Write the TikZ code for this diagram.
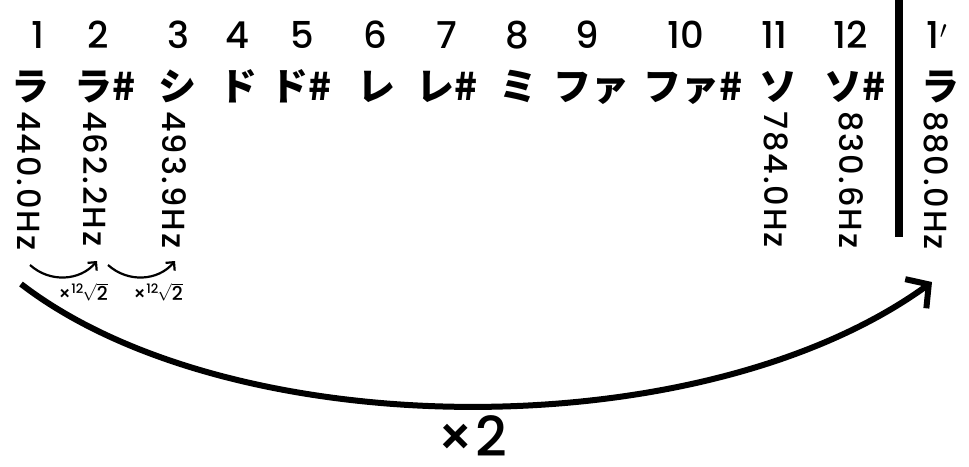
\documentclass[tikz,border=0pt]{standalone}
\usepackage{fontspec}
\setmainfont{Poppins Medium}
\newfontfamily\freqfont{Poppins Medium}[LetterSpace=6]
\newfontfamily\jp{Noto Sans CJK JP}
\usetikzlibrary{arrows.meta}
\begin{document}
\begin{tikzpicture}[x=1pt,y=-1pt,
  num/.style={font=\fontsize{37}{37}\selectfont, inner sep=0pt, anchor=base},
  kana/.style={font=\jp\bfseries\fontsize{38}{38}\selectfont, inner sep=0pt, anchor=base},
  freq/.style={font=\freqfont\fontsize{32}{32}\selectfont, inner sep=0pt, rotate=-90, anchor=north west},
  small/.style={font=\fontsize{19}{19}\selectfont, inner sep=0pt},
  smallarrow/.style={line width=2.2pt, -{Straight Barb[length=6pt,width=12pt]}},
  bigarrow/.style={line width=6pt, -{Straight Barb[length=16pt,width=36pt]}}]
\useasboundingbox (0,0) rectangle (969,466);
% numbers
\foreach \x/\t [count=\i] in {38/1,98/2,178/3,237/4,302/5,375/6,447/7,517/8,587/9,686/10,774/11,851/12,937/1$'$}
  \node[num] (n\i) at (\x,48) {\t};
% kana
\node[kana] (k1) at (31,100) {ラ};
\node[kana] (k2) at (105,100) {ラ\#};
\node[kana] (k3) at (177,100) {シ};
\node[kana] (k4) at (238,100) {ド};
\node[kana] (k5) at (301,100) {ド\#};
\node[kana] (k6) at (376,100) {レ};
\node[kana] (k7) at (447,100) {レ\#};
\node[kana] (k8) at (518,100) {ミ};
\node[kana] (k9) at (591,100) {ファ};
\node[kana] (k10) at (693,100) {ファ\#};
\node[kana] (k11) at (778,100) {ソ};
\node[kana] (k12) at (855,100) {ソ\#};
\node[kana] (k13) at (940,100) {ラ};
% frequencies
\node[freq] (f1) at (41,111) {440.0Hz};
\node[freq] (f2) at (108,111) {462.2Hz};
\node[freq] (f3) at (187,111) {493.9Hz};
\node[freq] (f11) at (788,111) {784.0Hz};
\node[freq] (f12) at (864,111) {830.6Hz};
\node[freq] (f13) at (948,111) {880.0Hz};
% bar
\draw[line width=8pt] (899,0) -- (899,237);
% small arrows
\coordinate (a1) at (30,265);
\coordinate (a2) at (97,261);
\coordinate (a3) at (108,265);
\coordinate (a4) at (175,261);
\draw[smallarrow] (a1) .. controls (50,283) and (80,281) .. (a2);
\draw[smallarrow] (a3) .. controls (128,283) and (158,281) .. (a4);
\node[small] (l1) at (83,292) {×\raisebox{7pt}{\fontsize{13}{13}\selectfont 12}\kern-1pt$\sqrt{\mbox{2}}$};
\node[small] (l2) at (158,292) {×\raisebox{7pt}{\fontsize{13}{13}\selectfont 12}\kern-1pt$\sqrt{\mbox{2}}$};
% big arrow
\coordinate (b1) at (21,284);
\coordinate (b2) at (932,282);
\draw[bigarrow] (b1) .. controls (230,445) and (700,450) .. (b2);
\node[font=\fontsize{55}{55}\selectfont, inner sep=0pt, anchor=base] (x2) at (472,456) {×2};
\end{tikzpicture}
\end{document}
